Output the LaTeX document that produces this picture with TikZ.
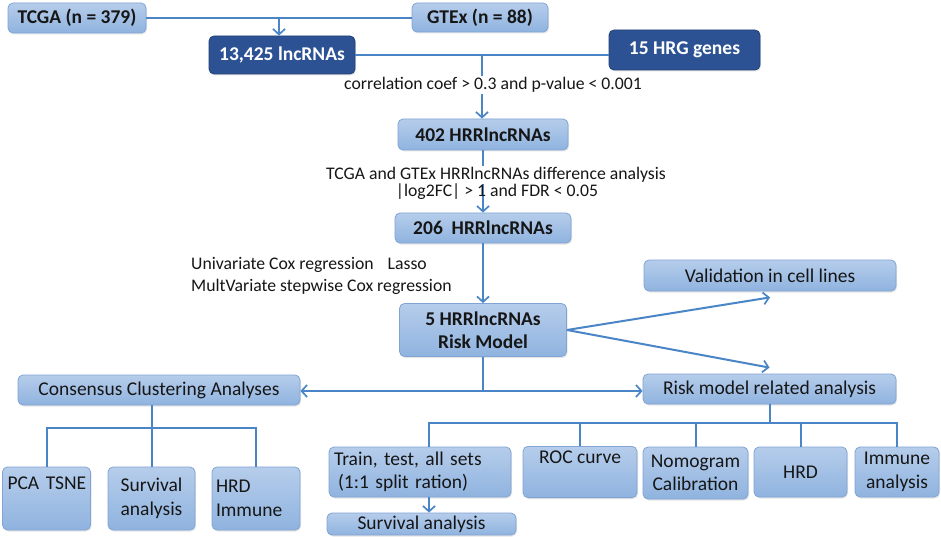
\documentclass[tikz,border=0pt]{standalone}
\usepackage{fontspec}
\setmainfont{Carlito}
\usetikzlibrary{arrows.meta,shadows,calc}
\definecolor{lnc}{RGB}{74,134,199}
\definecolor{ltop}{RGB}{182,205,235}
\definecolor{lbot}{RGB}{143,179,223}
\definecolor{lbrd}{RGB}{128,164,212}
\definecolor{dfill}{RGB}{44,82,148}
\definecolor{dbrd}{RGB}{34,64,118}
\definecolor{txt}{RGB}{22,22,22}
\tikzset{
  shad/.style={drop shadow={opacity=0.2,shadow xshift=1pt,shadow yshift=-1.5pt}},
  box/.style={shad, rounded corners=5pt, draw=lbrd, line width=0.8pt, top color=ltop, bottom color=lbot,
    text=txt, font=\fontsize{19.5}{23.5}\selectfont, inner sep=4pt, align=center},
  dbox/.style={shad, rounded corners=5pt, draw=dbrd, line width=0.8pt, fill=dfill, text=white,
    font=\bfseries\fontsize{19.5}{23.5}\selectfont, inner sep=4pt, align=center},
  conn/.style={draw=lnc, line width=2pt},
  arr/.style={conn, -{Straight Barb[length=5.5pt,width=12pt,line width=1.7pt]}},
  lab/.style={font=\fontsize{17.7}{21}\selectfont, text=txt, inner sep=1pt},
}
\begin{document}
\begin{tikzpicture}[x=1pt,y=-1pt]
\useasboundingbox[fill=white] (0,0) rectangle (941,537);
% top
\node[box, minimum width=138pt, minimum height=30pt] (tcga) at (77,18) {\bfseries TCGA (n = 379)};
\node[box, minimum width=136pt, minimum height=29pt] (gtex) at (480,17.5) {\bfseries GTEx (n = 88)};
\node[dbox, minimum width=146pt, minimum height=38pt] (n13) at (282,55) {13,425 lncRNAs};
\node[dbox, minimum width=151pt, minimum height=40pt] (hrg) at (684.5,50) {15 HRG genes};
% main column
\node[box, minimum width=170pt, minimum height=31pt] (b402) at (483,134.5) {\bfseries 402 HRRlncRNAs};
\node[box, minimum width=176pt, minimum height=30pt] (b206) at (483,228) {\bfseries 206\ \ HRRlncRNAs};
\node[box, minimum width=167pt, minimum height=53pt] (r5) at (483,330) {\bfseries 5 HRRlncRNAs\\\bfseries Risk Model};
% right
\node[box, minimum width=252pt, minimum height=31pt] (val) at (770,275.5) {Validation in cell lines};
\node[box, minimum width=253pt, minimum height=30pt] (risk) at (769.5,389) {Risk model related analysis};
% left
\node[box, minimum width=282pt, minimum height=30pt] (cons) at (159,390) {Consensus Clustering Analyses};
\node[box, minimum width=87pt, minimum height=63pt, text width=84pt, inner xsep=2pt, align=left] (pca) at (46.5,498.5) {\hspace{3pt}PCA TSNE\\\strut};
\node[box, minimum width=87pt, minimum height=63pt] (surv1) at (151.5,498.5) {Survival\\analysis};
\node[box, minimum width=88pt, minimum height=63pt, text width=80pt, inner xsep=4pt, align=left] (hrdimm) at (256,498.5) {HRD\\Immune};
% bottom right
\node[box, minimum width=182pt, minimum height=50pt, text width=172pt, inner xsep=5pt, align=left] (train) at (420,472) {Train, test, all sets\\\hspace{4pt}(1:1 split ration)};
\node[box, minimum width=189pt, minimum height=22pt, inner ysep=1pt] (surv2) at (421.5,524) {Survival analysis};
\node[box, minimum width=114pt, minimum height=50pt] (roc) at (580,472) {ROC curve\\\strut};
\node[box, minimum width=105pt, minimum height=52pt] (nomo) at (695.5,473) {Nomogram\\Calibration};
\node[box, minimum width=93pt, minimum height=50pt] (hrd) at (800.5,472) {HRD};
\node[box, minimum width=84pt, minimum height=50pt] (imm) at (897,472) {Immune\\analysis};
% connectors
\draw[conn] (tcga.east) -- (gtex.west |- tcga.east);
\coordinate (t1) at ($(tcga.east)!0.5!(gtex.west)$);
\draw[arr] (t1) -- (t1 |- n13.north);
\draw[conn] (n13.east) -- (n13.east -| hrg.west);
\coordinate (t2) at ($(n13.east)!0.5!(n13.east -| hrg.west)$);
\draw[arr] (t2) -- (t2 |- b402.north);
\draw[arr] (b402.south) -- (b206.north);
\draw[arr] (b206.south) -- (r5.north);
\coordinate (v1) at ([yshift=-6pt]val.south);
\coordinate (v2) at ([yshift=6pt]risk.north);
\draw[arr] (r5.east) -- (v1);
\draw[arr] (r5.east) -- (v2);
\coordinate (j) at ($(r5.south |- risk.west)+(0,2)$);
\draw[conn] (r5.south) -- (j);
\draw[arr] (j) -- (j -| cons.east);
\draw[arr] (j) -- (j -| risk.west);
\coordinate (c1) at (0,428);
\draw[conn] (cons.south -| surv1.north) -- (surv1.north);
\draw[conn] (pca.north) |- (c1 -| hrdimm.north) -- (hrdimm.north);
\coordinate (c2) at (0,423);
\draw[conn] (risk.south) -- (risk.south |- c2);
\coordinate (tr) at ([xshift=9pt]train.north);
\draw[conn] (tr) |- (c2 -| imm.north) -- (imm.north);
\draw[conn] (roc.north) -- (roc.north |- c2);
\draw[conn] (nomo.north) -- (nomo.north |- c2);
\draw[conn] (hrd.north) -- (hrd.north |- c2);
\coordinate (tb) at ([xshift=9pt]train.south);
\draw[arr] (tb) -- (tb |- surv2.north);
% labels
\node[lab, fill=white] (l1) at (493,85) {correlation coef > 0.3 and p-value < 0.001};
\node[lab, fill=white] (l2) at (496,175) {TCGA and GTEx HRRlncRNAs difference analysis};
\node[lab] (l3) at (497,192) {|log2FC| > 1 and FDR < 0.05};
\node[lab, anchor=west, align=left, font=\fontsize{17.7}{22}\selectfont] (l4) at (190,276) {Univariate Cox regression\hspace{14pt}Lasso\\MultVariate stepwise Cox regression};
\end{tikzpicture}
\end{document}
